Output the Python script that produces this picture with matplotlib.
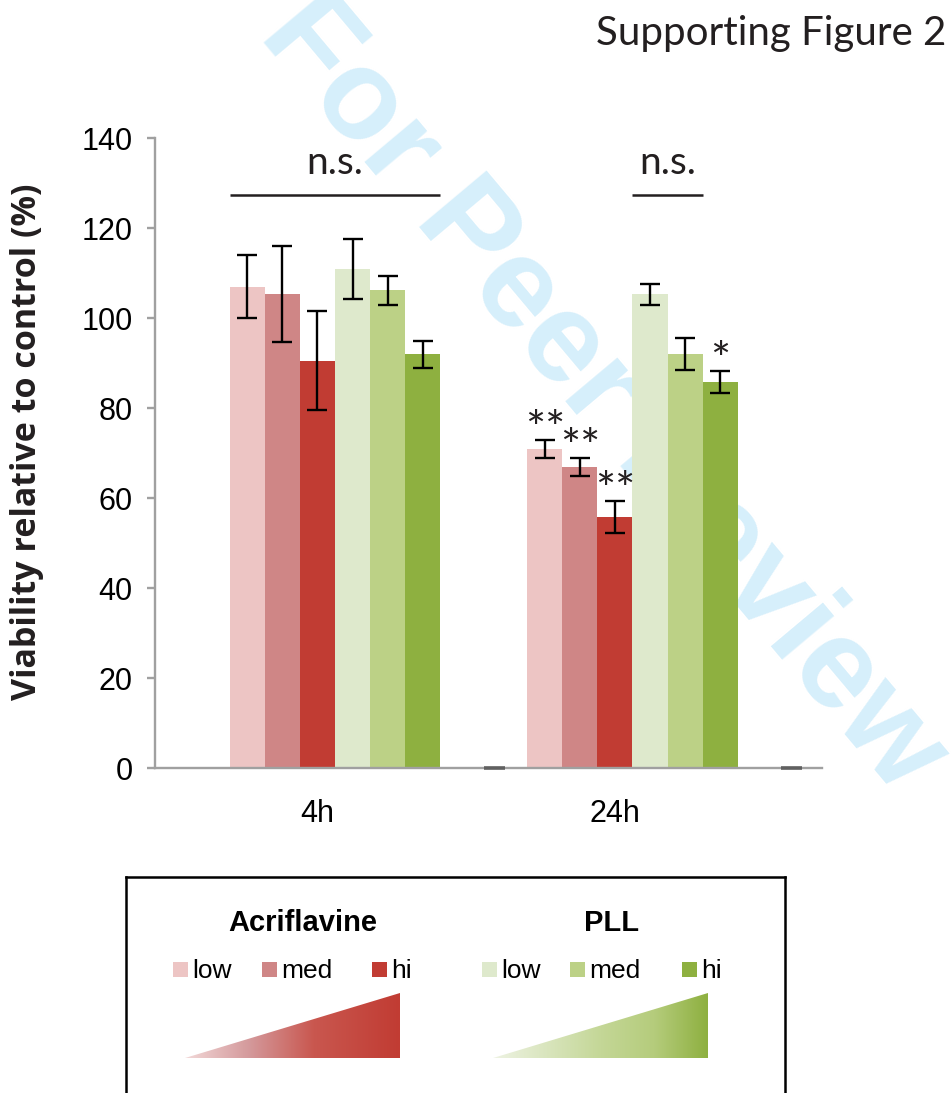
import numpy as np
import matplotlib
matplotlib.use("Agg")
import matplotlib.pyplot as plt
from matplotlib.colors import LinearSegmentedColormap
from matplotlib.patches import Polygon, Rectangle

# --- data ---
times = ['4h', '24h']
series = ['Acriflavine low', 'Acriflavine med', 'Acriflavine hi',
          'PLL low', 'PLL med', 'PLL hi']
acr_low = [107.0, 70.9]
acr_med = [105.3, 66.9]
acr_hi = [90.5, 55.8]
pll_low = [110.9, 105.3]
pll_med = [106.2, 92.0]
pll_hi = [92.0, 85.8]
acr_low_err = [7.0, 2.0]
acr_med_err = [10.6, 2.0]
acr_hi_err = [11.0, 3.5]
pll_low_err = [6.6, 2.3]
pll_med_err = [3.2, 3.6]
pll_hi_err = [3.0, 2.4]

# significance marks: (time index, series index, label)
stars = [(1, 0, '**'), (1, 1, '**'), (1, 2, '**'), (1, 5, '*')]
# n.s. brackets: (time index, first series, last series)
ns_brackets = [(0, 0, 5), (1, 3, 4)]

legend_levels = ['low', 'med', 'hi']

means = [acr_low, acr_med, acr_hi, pll_low, pll_med, pll_hi]
errs = [acr_low_err, acr_med_err, acr_hi_err, pll_low_err, pll_med_err, pll_hi_err]
colors = ['#edc5c4', '#cf8686', '#c13c33', '#dee9cc', '#bcd186', '#8eb040']

W, H = 951, 1093
fig = plt.figure(figsize=(W / 100, H / 100), dpi=100)

ax = fig.add_axes([155 / W, 1 - 768 / H, (822 - 155) / W, (768 - 138) / H])

myriad = 'Lato'
arial = 'Liberation Sans'

# watermark behind the bars
ax.text(603 / W, 1 - 395 / H, 'For Peer Review', transform=fig.transFigure,
        rotation=-50, rotation_mode='anchor', ha='center', va='center',
        fontsize=92, fontweight='bold', family=arial, color='#d6effb',
        zorder=0.5, clip_on=False)

x = np.arange(len(times))
bw = 0.118
for i, (m, e, c) in enumerate(zip(means, errs, colors)):
    xs = x + (i - 2.5) * bw
    ax.bar(xs, m, width=bw, color=c, zorder=2, label=series[i])
    ax.errorbar(xs, m, yerr=e, fmt='none', ecolor='black', elinewidth=1.7,
                capsize=7.5, capthick=1.7, zorder=3)

for t, s, lab in stars:
    xs = x[t] + (s - 2.5) * bw
    ytop = means[s][t] + errs[s][t] + 2.0
    ax.text(xs, ytop, lab, ha='center', va='center', fontsize=34,
            family=myriad, color='#231f20', zorder=4)

for t, s0, s1 in ns_brackets:
    x0 = x[t] + (s0 - 3) * bw
    x1 = x[t] + (s1 - 2) * bw
    ax.plot([x0, x1], [127.3, 127.3], color='#231f20', lw=1.8,
            solid_capstyle='butt', zorder=4)
    ax.text((x0 + x1) / 2, 134.5, 'n.s.', ha='center', va='center',
            fontsize=28, family=myriad, color='#231f20', zorder=4)

# small dark dashes at the category boundaries
for b in x + 0.5:
    ax.plot([b, b + 0.07], [0, 0], color='#606060', lw=2.6,
            solid_capstyle='butt', zorder=5, clip_on=False)

ax.set_xlim(-0.605, 1.637)
ax.set_ylim(0, 140)
ax.set_yticks(np.arange(0, 141, 20))
ax.set_xticks(x - 0.06)
ax.set_xticklabels(times)
for sp in ['top', 'right']:
    ax.spines[sp].set_visible(False)
for sp in ['left', 'bottom']:
    ax.spines[sp].set_color('#a0a0a0')
    ax.spines[sp].set_linewidth(1.7)
ax.tick_params(axis='y', length=6, width=1.7, color='#a0a0a0', pad=10,
               labelsize=22)
ax.tick_params(axis='x', length=0, pad=22, labelsize=22)
for lab in ax.get_xticklabels() + ax.get_yticklabels():
    lab.set_family(arial)

fig.text(27 / W, 1 - 442 / H, 'Viability relative to control (%)',
         rotation=90, ha='center', va='center', fontsize=24.5,
         fontweight='bold', family='Open Sans', color='#231f20')

fig.text(946 / W, 1 - 33 / H, 'Supporting Figure 2', ha='right',
         va='center', fontsize=29, family=myriad, color='#231f20')

# --- legend box (pixel coordinates of the figure) ---
lax = fig.add_axes([126 / W, 0, (785 - 126) / W, (H - 877) / H])
lax.set_xticks([])
lax.set_yticks([])
lax.spines['bottom'].set_visible(False)
for sp in ['left', 'top', 'right']:
    lax.spines[sp].set_linewidth(1.8)
    lax.spines[sp].set_color('black')

groups = [('Acriflavine', 303, [173, 262, 372], colors[:3],
           [(0, '#f2d8d8'), (0.3, '#d4999b'), (0.6, '#c9574f'), (1, '#c13c33')],
           185, 400),
          ('PLL', 612, [482, 570, 682], colors[3:],
           [(0, '#eef3e3'), (0.5, '#c4d797'), (0.75, '#b5cc7c'), (1, '#8eb040')],
           493, 708)]
for title, cx, sq_x, cols, grad, tx0, tx1 in groups:
    lax.text(cx, 923, title, ha='center', va='center', fontsize=21,
             fontweight='bold', family=arial)
    for sx, c, lvl in zip(sq_x, cols, legend_levels):
        lax.add_patch(Rectangle((sx, 962), 15, 15, color=c, lw=0))
        lax.text(sx + 19, 971, lvl, ha='left', va='center', fontsize=19,
                 family=arial)
    cmap = LinearSegmentedColormap.from_list(title, grad)
    tri = Polygon([(tx0, 1058), (tx1, 1058), (tx1, 993)], closed=True,
                  facecolor='none', edgecolor='none')
    lax.add_patch(tri)
    grad_img = np.linspace(0, 1, 256)[None, :]
    im = lax.imshow(grad_img, cmap=cmap, aspect='auto',
                    extent=[tx0, tx1, 1058, 993], interpolation='bilinear')
    im.set_clip_path(tri)

lax.set_xlim(126, 785)
lax.set_ylim(H, 877)

fig.savefig('out.png', dpi=100)
